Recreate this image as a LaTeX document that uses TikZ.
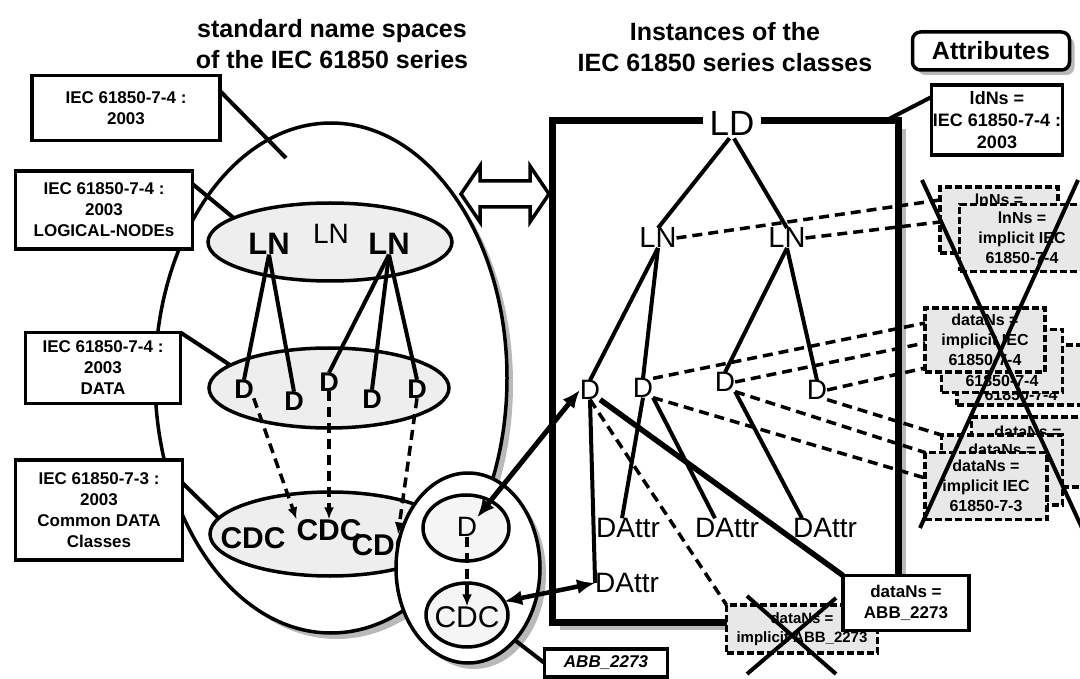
\documentclass[tikz,border=0pt]{standalone}
\usepackage{fontspec}
\setmainfont{Liberation Sans}
\usetikzlibrary{arrows.meta,shapes.geometric}
\newcommand\myfs[2]{\fontsize{#1}{#2}\selectfont}
\tikzset{
  every node/.style={inner sep=0pt, outer sep=0pt},
  ln/.style={line width=4pt},
  dsh/.style={line width=3.5pt, dash pattern=on 10pt off 6pt},
  tip/.style={-{Latex[length=12pt,width=10pt]}},
  dtip/.style={{Latex[length=18pt,width=15pt]}-{Latex[length=18pt,width=15pt]}},
  shdfill/.style={fill=gray!55, draw=none},
  ttl/.style={font=\bfseries\myfs{25}{31}, align=center},
  lbox/.style={draw, line width=3.5pt, fill=white, align=center, font=\bfseries\myfs{17}{21}},
  xbox/.style={draw, line width=3.5pt, dash pattern=on 7pt off 3pt, fill=gray!18, align=center, font=\bfseries\myfs{16}{20}},
  nsE/.style={ellipse, draw, line width=3.5pt, fill=gray!13},
  lnB/.style={font=\bfseries\myfs{31}{31}},
  dB/.style={font=\bfseries\myfs{27}{27}},
  cdcB/.style={font=\bfseries\myfs{30}{30}},
  rt/.style={font=\myfs{29}{29}},
  dat/.style={font=\myfs{28}{28}}
}
\begin{document}
\begin{tikzpicture}[x=1pt,y=-1pt]
\useasboundingbox[fill=white] (0,0) rectangle (1080,679);

% titles
\node[ttl] (t1) at (332,44) {standard name spaces\\of the IEC 61850 series};
\node[ttl] (t2) at (725,47) {Instances of the\\IEC 61850 series classes};

% ---------- left: standard name spaces ----------
\node[ellipse, shdfill, minimum width=352pt, minimum height=510pt] (bigEs) at (337,384) {};
\node[ellipse, draw, line width=3.5pt, fill=white, minimum width=352pt, minimum height=510pt] (bigE) at (331,378) {};
\node[nsE, minimum width=244pt, minimum height=78pt] (lnE) at (330,242) {};
\node[nsE, minimum width=240pt, minimum height=80pt] (dE) at (329,388) {};
\node[nsE, minimum width=240pt, minimum height=84pt] (cdcE) at (330,534) {};

\node[lnB] (lnL1) at (269,244) {LN};
\node[font=\myfs{28}{28}] (lnL2) at (331,234) {LN};
\node[lnB] (lnL3) at (389,244) {LN};

\node[dB] (dL1) at (244,389) {D};
\node[dB] (dL2) at (294,401) {D};
\node[dB] (dL3) at (329,382) {D};
\node[dB] (dL4) at (372,399) {D};
\node[dB] (dL5) at (417,389) {D};

\node[cdcB] (cL1) at (253,538) {CDC};
\node[cdcB] (cL2) at (329,530) {CDC};
\node[cdcB] (cL3) at (384,545) {CDC};

\draw[ln] (lnL1.south) -- (dL1.north);
\draw[ln] (lnL1.south) -- (dL2.north);
\draw[ln] (lnL3.south) -- (dL3.north);
\draw[ln] (lnL3.south) -- (dL4.north);
\draw[ln] (lnL3.south) -- (dL5.north);

\draw[dsh, tip] (dL1.south east) -- (cL2.north west);
\draw[dsh, tip] (dL3.south) -- (cL2.north);
\draw[dsh, tip] (dL5.south) -- ([xshift=14pt]cL3.north);

% left labels
\node[lbox, minimum width=188pt, minimum height=65pt] (b1) at (126,108) {IEC 61850-7-4 :\\2003};
\node[lbox, minimum width=177pt, minimum height=78pt] (b2) at (104,210) {IEC 61850-7-4 :\\2003\\LOGICAL-NODEs};
\node[lbox, minimum width=155pt, minimum height=71pt] (b3) at (103,368) {IEC 61850-7-4 :\\2003\\DATA};
\node[lbox, minimum width=167pt, minimum height=100pt] (b4) at (99,510) {IEC 61850-7-3 :\\2003\\Common DATA\\Classes};
\coordinate (bigIn) at (286,158);
\draw[ln] ([yshift=17pt]b1.east) -- (bigIn);
\draw[ln] ([yshift=26pt]b2.east) -- (lnE.166);
\draw[ln] (b3.north east) -- (dE.167);
\draw[ln] ([yshift=27pt]b4.east) -- (cdcE.172);

% ABB_2273 name space
\node[ellipse, shdfill, minimum width=144pt, minimum height=190pt] (smallEs) at (474,574) {};
\node[ellipse, draw, line width=3.5pt, fill=white, minimum width=144pt, minimum height=190pt] (smallE) at (468,568) {};
\node[nsE, fill=gray!8, minimum width=86pt, minimum height=66pt] (iDE) at (466,528) {};
\node[nsE, fill=gray!8, minimum width=82pt, minimum height=64pt] (iCE) at (467,615) {};
\node[font=\myfs{28}{28}] (iD) at (467,527) {D};
\node[font=\myfs{30}{30}] (iC) at (467,617) {CDC};
\draw[dsh, tip] (iD.south) -- (iC.north);
\node[lbox, font=\bfseries\itshape\myfs{17}{21}, minimum width=123pt, minimum height=28pt] (abb) at (606,663) {ABB\_2273};
\draw[ln] (smallE.-57) -- (abb.west);

% hollow double arrow
\draw[line width=3.5pt, fill=white, line join=miter] (461,194) -- (480,166) -- (480,181) -- (530,181) -- (530,166) -- (549,194) -- (530,222) -- (530,207) -- (480,207) -- (480,222) -- cycle;

% ---------- right: instances ----------
\node[shdfill, minimum width=346pt, minimum height=501pt] (frameS) at (733,379.5) {};
\node[draw, line width=7pt, fill=white, minimum width=346pt, minimum height=501pt] (frame) at (725,371.5) {};
\node[fill=white, inner xsep=7pt, font=\myfs{35}{35}] (LD) at (732,123) {LD};
\node[rt] (LNa) at (658,238) {LN};
\node[rt] (LNb) at (787,238) {LN};
\node[dat] (Da) at (590,390) {D};
\node[dat] (Db) at (643,388) {D};
\node[dat] (Dc) at (725,382) {D};
\node[dat] (Dd) at (817,390) {D};
\node[dat] (DAttr1) at (628,528) {DAttr};
\node[dat] (DAttr2) at (727,528) {DAttr};
\node[dat] (DAttr3) at (825,528) {DAttr};
\node[dat] (DAttr4) at (627,583) {DAttr};

\draw[ln, shorten <=4pt] (LD.south) -- (LNa.north);
\draw[ln, shorten <=4pt] (LD.south) -- (LNb.north);
\draw[ln] (LNa.south) -- (Da.north);
\draw[ln] (LNa.south) -- (Db.north);
\draw[ln] (LNb.south) -- (Dc.north);
\draw[ln] (LNb.south) -- (Dd.north);
\draw[ln] (Da.south) -- (DAttr4.west);
\draw[ln] (Db.south) -- ([xshift=-6pt]DAttr1.north);
\draw[ln] (Db.south east) -- ([xshift=-12pt]DAttr2.north);
\draw[ln] (Dc.south east) -- ([xshift=-23pt]DAttr3.north);

% attribute boxes
\node[shdfill, rounded corners=8pt, minimum width=157pt, minimum height=38pt] (attrS) at (996,56) {};
\node[draw, line width=3.5pt, rounded corners=8pt, fill=white, minimum width=157pt, minimum height=38pt, font=\bfseries\myfs{25}{25}] (attr) at (991,51) {Attributes};
\node[lbox, font=\bfseries\myfs{18}{22}, minimum width=131pt, minimum height=70pt] (ldNs) at (997,120) {ldNs =\\IEC 61850-7-4 :\\2003};
\draw[ln] ([xshift=-13pt]frame.north east) -- ([yshift=23pt]ldNs.west);

\node[xbox, minimum width=118pt, minimum height=66pt] (lnBack) at (999,220) {lnNs =\\\phantom{implicit IEC}\\\phantom{61850-7-4}};
\node[xbox, minimum width=125pt, minimum height=67pt] (lnFront) at (1022,238) {lnNs =\\implicit IEC\\61850-7-4};

\node[xbox, minimum width=128pt, minimum height=60pt] (dM3) at (1021,375) {\phantom{dataNs =}\\\phantom{implicit IEC}\\61850-7-4};
\node[xbox, minimum width=121pt, minimum height=63pt] (dM2) at (1002,361) {\phantom{dataNs =}\\\phantom{implicit IEC}\\61850-7-4};
\node[xbox, minimum width=120pt, minimum height=64pt] (dM1) at (985,340) {dataNs =\\implicit IEC\\61850-7-4};

\node[xbox, minimum width=113pt, minimum height=70pt] (dL3) at (1028,452) {dataNs =\\\phantom{implicit IEC}\\\phantom{61850-7-3}};
\node[xbox, minimum width=121pt, minimum height=70pt] (dL2) at (1002,470) {dataNs =\\\phantom{implicit IEC}\\\phantom{61850-7-3}};
\node[xbox, minimum width=122pt, minimum height=67pt] (dL1) at (986,486) {dataNs =\\implicit IEC\\61850-7-3};

\node[xbox, font=\bfseries\myfs{15}{19}, minimum width=151pt, minimum height=48pt] (cABB) at (802,629) {dataNs =\\implicit ABB\_2273};
\node[lbox, minimum width=126pt, minimum height=55pt] (dABB) at (906,603) {dataNs =\\ABB\_2273};

% dashed references
\draw[dsh] (LNa.east) -- ([yshift=20pt]lnBack.west);
\draw[dsh] (LNb.east) -- ([yshift=-2pt]lnBack.west);
\draw[dsh] (Db.north east) -- ([yshift=17pt]dM1.west);
\draw[dsh] (Dc.east) -- ([yshift=-3pt]dM1.west);
\draw[dsh] (Dd.east) -- ([yshift=-28pt]dM1.west);
\draw[dsh] (Dd.south east) -- (dL2.north west);
\draw[dsh] (Dc.south east) -- (dL1.north west);
\draw[dsh] (Db.south east) -- ([yshift=8pt]dL1.west);
\draw[dsh] (Da.south) -- (cABB.north west);
\draw[line width=5.5pt] (Da.south east) -- (dABB.north west);

% crossings
\coordinate (xa1) at (922,180);
\coordinate (xa2) at (1082,528);
\coordinate (xb1) at (1078,180);
\coordinate (xb2) at (920,528);
\draw[line width=4pt] (xa1) -- (xa2);
\draw[line width=4pt] (xb1) -- (xb2);
\coordinate (xc1) at (747,596);
\coordinate (xc2) at (836,674);
\coordinate (xd1) at (836,598);
\coordinate (xd2) at (747,674);
\draw[line width=4pt] (xc1) -- (xc2);
\draw[line width=4pt] (xd1) -- (xd2);

% thick links between name spaces and instances
\draw[line width=5pt, dtip] (iD.north east) -- (Da.west);
\draw[line width=4.5pt, dtip] (iCE.20) -- (DAttr4.west);
\end{tikzpicture}
\end{document}
